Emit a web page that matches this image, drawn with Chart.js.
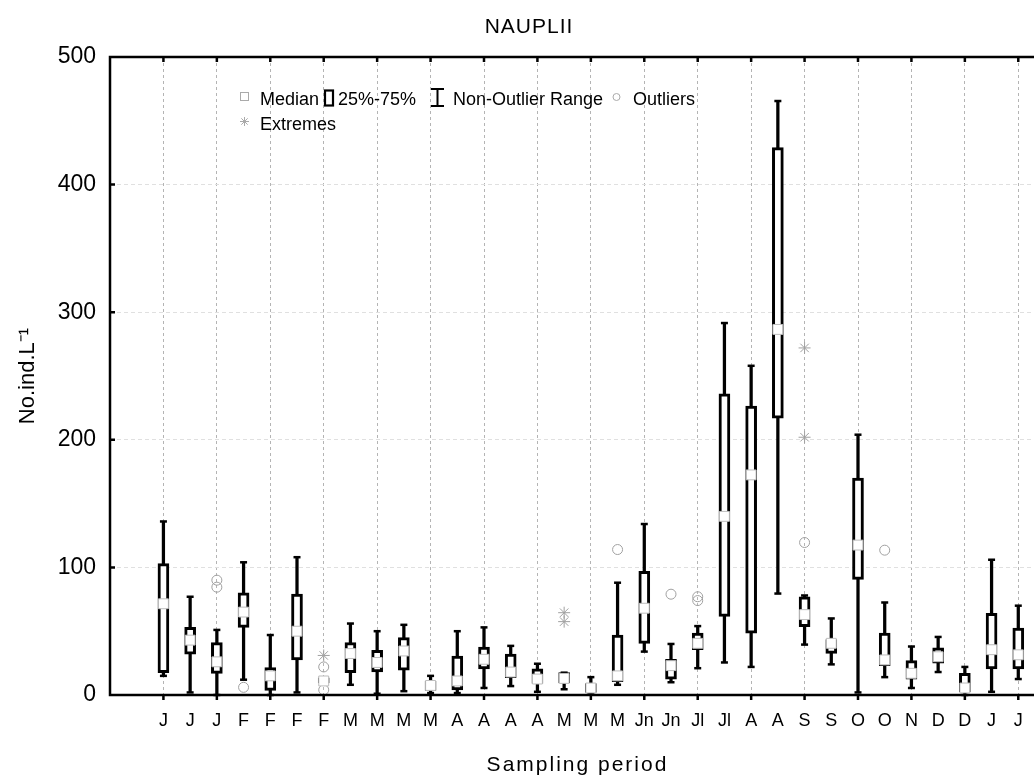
<!DOCTYPE html>
<html>
<head>
<meta charset="utf-8">
<script src="https://cdn.jsdelivr.net/npm/chart.js@4.4.1/dist/chart.umd.min.js"></script>
<style>
  html, body { margin: 0; padding: 0; background: #fff; overflow: hidden; }
  #wrap { position: absolute; left: 12px; top: 0; width: 1048px; height: 776px; }
</style>
</head>
<body>
<div id="wrap"><canvas id="nauplii"></canvas></div>
<script>
// sampling months (tick labels)
const months = ['J','J','J','F','F','F','F','M','M','M','M','A','A','A','A','M','M','M',
                'Jn','Jn','Jl','Jl','A','A','S','S','O','O','N','D','D','J','J'];

// box plot stats (No.ind.L-1)
const whiskerLow  = [15, 2, 0, 12, 0, 2, 9.5, 8, 1, 3, 1.5, 1.5, 5.5, 7, 2.5, 4.5, 0.5, 8,
                     34, 10, 21, 25.5, 22, 79.5, 39.5, 24, 2, 14, 5.5, 18, 0, 2.5, 12.5];
const q1          = [17.5, 32, 17, 53, 3.5, 27.5, 9.5, 17.5, 18, 19.5, 3.5, 4, 20.5, 13.5, 9, 9.5, 2, 10.5,
                     40.5, 12.5, 35.5, 61.5, 48.5, 217, 53.5, 32.5, 90.5, 23, 12.5, 25, 2.5, 20.5, 20.5];
const medians     = [71.5, 43, 26, 65, 15, 50, 11, 32.5, 25.5, 34.5, 7.5, 11, 28, 18, 12.5, 13, 5.5, 15,
                     68, 23, 40.5, 140, 172.5, 286.5, 63, 40.5, 117.5, 27.5, 17, 30, 5.5, 35.5, 31.5];
const q3          = [103, 53, 41, 80, 21.5, 79, 13.5, 41, 35, 45, 11, 30.5, 37.5, 32, 20.5, 17.5, 9, 47,
                     97, 28, 48.5, 236, 226.5, 429, 77, 43.5, 170, 48.5, 27, 37, 17, 64, 52.5];
const whiskerHigh = [136, 77, 51, 104, 47, 108, 13.5, 56, 50, 55, 15, 50, 53, 38.5, 24.5, 17.5, 14, 88,
                     134, 40, 54, 291.5, 258, 465.5, 78, 60, 204, 72.5, 38, 45.5, 22, 106, 70];

// [month index, value]
const outliers = [[2, 90], [2, 84.5], [3, 6], [6, 22], [6, 4], [17, 114], [19, 79],
                  [20, 77], [20, 74], [24, 119.5], [27, 113.5]];
const extremes = [[6, 31], [15, 64.5], [15, 57.5], [24, 272], [24, 202]];

const legendLabels = ['Median', '25%-75%', 'Non-Outlier Range', 'Outliers', 'Extremes'];
const chartTitle = 'NAUPLII';
const xTitle = 'Sampling period';

const FONT = "'Liberation Sans', Arial, Helvetica, sans-serif";
Chart.defaults.font.family = FONT;
Chart.defaults.color = '#000';

const idx = months.map((m, i) => i);

// whisker caps, frame, tick marks, titles and the legend block
const boxExtras = {
  id: 'boxExtras',
  beforeDatasetsDraw(chart) {
    const {ctx, scales: {x, y}} = chart;
    ctx.save();
    ctx.strokeStyle = '#000';
    ctx.lineWidth = 2.5;
    idx.forEach(i => {
      const px = x.getPixelForValue(i);
      [whiskerLow[i], whiskerHigh[i]].forEach(v => {
        const py = y.getPixelForValue(v);
        ctx.beginPath();
        ctx.moveTo(px - 3.5, py);
        ctx.lineTo(px + 3.5, py);
        ctx.stroke();
      });
    });
    ctx.restore();
  },
  afterDatasetsDraw(chart) {
    const {ctx, chartArea: a, scales: {x, y}} = chart;
    ctx.save();
    ctx.strokeStyle = '#000';
    ctx.lineWidth = 2.5;
    ctx.strokeRect(a.left, a.top, a.right - a.left, a.bottom - a.top);
    ctx.beginPath();
    for (let i = 0; i < months.length; i += 2) {
      const px = x.getPixelForValue(i);
      ctx.moveTo(px, a.bottom); ctx.lineTo(px, a.bottom + 5);
      ctx.moveTo(px, a.top); ctx.lineTo(px, a.top + 5);
    }
    for (let v = 100; v < 500; v += 100) {
      const py = y.getPixelForValue(v);
      ctx.moveTo(a.left, py); ctx.lineTo(a.left + 5, py);
    }
    ctx.stroke();
    ctx.restore();
  },
  afterDraw(chart) {
    const {ctx, chartArea: a} = chart;
    ctx.save();
    ctx.fillStyle = '#000';
    ctx.textBaseline = 'alphabetic';

    // titles (slightly spaced lettering like the original)
    ctx.textAlign = 'center';
    ctx.letterSpacing = '1px';
    ctx.font = '21px ' + FONT;
    ctx.fillText(chartTitle, 517, 33);
    ctx.letterSpacing = '2px';
    ctx.fillText(xTitle, (a.left + a.right) / 2, 771);
    ctx.letterSpacing = '0px';
    ctx.textAlign = 'left';

    // legend is positioned in page pixels, canvas starts 12px right
    ctx.translate(-12, 0);
    ctx.font = '18px ' + FONT;
    // median
    ctx.strokeStyle = '#aaa'; ctx.lineWidth = 1;
    ctx.strokeRect(240.5, 92.5, 8, 8);
    ctx.fillText(legendLabels[0], 260, 105);
    // box
    ctx.strokeStyle = '#000'; ctx.lineWidth = 2.2;
    ctx.strokeRect(325, 90.5, 8, 15);
    ctx.fillText(legendLabels[1], 338, 105);
    // whisker
    ctx.lineWidth = 2;
    ctx.beginPath();
    ctx.moveTo(437.5, 89); ctx.lineTo(437.5, 106);
    ctx.moveTo(431, 89); ctx.lineTo(444, 89);
    ctx.moveTo(431, 106); ctx.lineTo(444, 106);
    ctx.stroke();
    ctx.fillText(legendLabels[2], 453, 105);
    // outliers
    ctx.strokeStyle = '#aaa'; ctx.lineWidth = 1;
    ctx.beginPath(); ctx.arc(616.5, 97, 3.5, 0, Math.PI * 2); ctx.stroke();
    ctx.fillText(legendLabels[3], 633, 105);
    // extremes
    ctx.beginPath();
    const cx = 244.5, cy = 121.5, r = 4.5;
    for (let k = 0; k < 4; k++) {
      const t = k * Math.PI / 4;
      ctx.moveTo(cx - r * Math.cos(t), cy - r * Math.sin(t));
      ctx.lineTo(cx + r * Math.cos(t), cy + r * Math.sin(t));
    }
    ctx.stroke();
    ctx.fillText(legendLabels[4], 260, 130);
    ctx.restore();
  }
};

new Chart(document.getElementById('nauplii'), {
  type: 'bar',
  data: {
    datasets: [
      {
        type: 'line', label: 'Median', order: 1, showLine: false,
        data: idx.map(i => ({x: i, y: medians[i]})),
        pointStyle: 'rect', pointRadius: 7, pointBackgroundColor: '#fff',
        pointBorderColor: '#bdbdbd', pointBorderWidth: 1
      },
      {
        type: 'line', label: 'Outliers', order: 2, showLine: false,
        data: outliers.map(([i, v]) => ({x: i, y: v})),
        pointStyle: 'circle', pointRadius: 5, pointBackgroundColor: 'rgba(0,0,0,0)',
        pointBorderColor: '#a0a0a0', pointBorderWidth: 1
      },
      {
        type: 'line', label: 'Extremes', order: 3, showLine: false,
        data: extremes.map(([i, v]) => ({x: i, y: v})),
        pointStyle: 'star', pointRadius: 6,
        pointBorderColor: '#a0a0a0', pointBorderWidth: 1
      },
      {
        label: '25%-75%', order: 4,
        data: idx.map(i => ({x: i, y: [q1[i], q3[i]]})),
        backgroundColor: '#fff', borderColor: '#000', borderWidth: 3,
        borderSkipped: false, barThickness: 11, grouped: false
      },
      {
        label: 'Non-Outlier Range', order: 5,
        data: idx.map(i => ({x: i, y: [whiskerLow[i], whiskerHigh[i]]})),
        backgroundColor: '#000', borderWidth: 0, barThickness: 2.6, grouped: false
      }
    ]
  },
  options: {
    responsive: true,
    maintainAspectRatio: false,
    animation: false,
    events: [],
    layout: { padding: { left: 0, right: 14, top: 57, bottom: 0 } },
    plugins: {
      legend: { display: false },
      tooltip: { enabled: false },
      title: { display: false }
    },
    scales: {
      x: {
        type: 'linear', min: -2, max: 33, offset: false,
        afterFit: s => { s.height = 81; },
        grid: {
          offset: false, drawTicks: false, lineWidth: 1,
          color: c => {
            const v = c.tick ? Math.round(c.tick.value) : -1;
            return (v >= 0 && v < months.length && v % 2 === 0) ? '#b4b4b4' : 'rgba(0,0,0,0)';
          }
        },
        border: { display: false, dash: [3, 3] },
        ticks: {
          stepSize: 1, autoSkip: false, maxRotation: 0, padding: 15,
          font: { size: 18 }, color: '#000',
          callback: v => months[Math.round(v)] || ''
        },
        title: { display: false }
      },
      y: {
        min: 0, max: 500,
        afterFit: s => { s.width = 98; },
        grid: {
          drawTicks: false,
          color: c => (c.tick && c.tick.value > 0 && c.tick.value < 500) ? '#e0e0e0' : 'rgba(0,0,0,0)'
        },
        border: { display: false, dash: [4, 3] },
        ticks: { stepSize: 100, padding: 14, font: { size: 23 }, color: '#000' },
        title: {
          display: true, text: 'No.ind.L⁻¹', color: '#000',
          font: { size: 22 }, padding: { top: 3, bottom: 0 }
        }
      }
    }
  },
  plugins: [boxExtras]
});
</script>
</body>
</html>
